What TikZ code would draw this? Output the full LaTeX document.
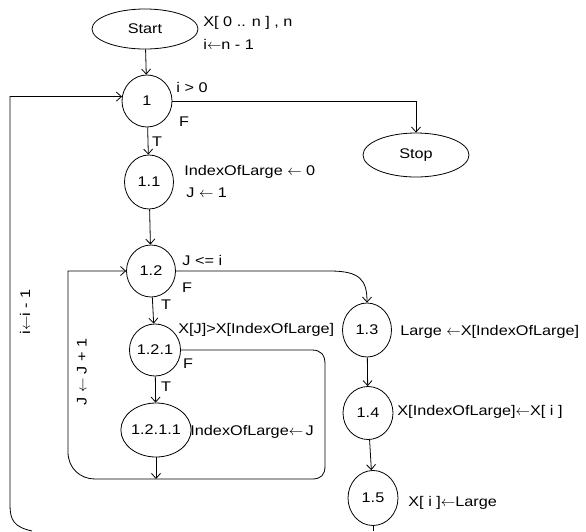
\documentclass[tikz,border=0pt]{standalone}
\usepackage{fontspec}
\setmainfont{Liberation Sans}[FakeStretch=1.16]
\newcommand\lar{\ensuremath{\leftarrow}}
\usetikzlibrary{arrows.meta,shapes.geometric}
\begin{document}
\begin{tikzpicture}[x=1pt,y=-1pt, line width=0.8pt,
  >={Straight Barb[length=5pt,width=9pt]},
  every node/.style={font=\fontsize{14}{15}\selectfont},
  circ/.style={draw, ellipse, inner sep=0pt},
  term/.style={draw, ellipse, inner sep=0pt, minimum width=106pt, minimum height=40pt},
  lbl/.style={anchor=west, inner sep=0pt},
  tf/.style={inner sep=0pt},
]
\useasboundingbox[fill=white] (0,0) rectangle (586,531);
% terminals
\node[term] (start) at (145,29) {Start};
\node[term, minimum height=44pt] (stop) at (416,155) {Stop};
% circles
\node[circ, minimum width=50pt, minimum height=52pt] (n1) at (147,101) {1};
\node[circ, minimum width=49pt, minimum height=54pt] (n11) at (149,182) {1.1};
\node[circ, minimum width=49pt, minimum height=52pt] (n12) at (151,271) {1.2};
\node[circ, minimum width=47pt, minimum height=52pt] (n121) at (155,350) {1.2.1};
\node[circ, minimum width=57pt, minimum height=54pt] (n1211) at (156,430) {1.2.1.1};
\node[circ, minimum width=49pt, minimum height=54pt] (n13) at (367,330) {1.3};
\node[circ, minimum width=50pt, minimum height=53pt] (n14) at (368,413) {1.4};
\node[circ, minimum width=50pt, minimum height=55pt] (n15) at (373,498) {1.5};
% free ends
\coordinate (jn) at (156,479);
\coordinate (oend) at (32,531);
\coordinate (b15) at (373,531);
% connectors
\draw[->] (start) -- (n1);
\draw[->] (n1.east) -| (stop.north);
\draw[->] (n1) -- (n11);
\draw[->] (n11) -- (n12);
\draw[->] (n12) -- (n121);
\draw[->] (n121) -- (n1211);
\draw[->] (n1211) -- (jn);
\draw[->] (n121.east) -- (312,350) .. controls (321,350) and (325,355) .. (325,364)
  -- (325,466) .. controls (325,475) and (321,479) .. (312,479)
  -- (95,479) .. controls (80,479) and (68,468) .. (68,452) |- (n12.west);
\draw[->] (n12.east) -- (330,271) .. controls (360,271) and (367,280) .. (n13.north);
\draw[->] (n13) -- (n14);
\draw[->] (n14) -- (n15);
\draw (n15) -- (b15);
\draw[->] (oend) .. controls (14,527) and (10,520) .. (10,505) |- (n1.170);
% labels
\node[lbl] (tx) at (203,23) {X[ 0 .. n ] , n};
\node[lbl] (ti) at (203,44) {i\lar n - 1};
\node[lbl] (c1) at (176,87) {i > 0};
\node[tf] (f1) at (184,122) {F};
\node[tf] (t1) at (157,142) {T};
\node[lbl] (a11) at (184,172) {IndexOfLarge \lar\ 0};
\node[lbl] (b11) at (186,193) {J \lar\ 1};
\node[lbl] (c12) at (182,260) {J <= i};
\node[tf] (f12) at (187,288) {F};
\node[tf] (t12) at (166,305) {T};
\node[lbl] (c121) at (178,330) {X[J]>X[IndexOfLarge]};
\node[tf] (f121) at (188,364) {F};
\node[tf] (t121) at (166,387) {T};
\node[lbl] (a1211) at (190,432) {IndexOfLarge\lar\,J};
\node[tf, rotate=90] (dec) at (25,312) {i\lar i - 1};
\node[tf, rotate=90] (inc) at (82,372) {J \lar\ J + 1};
\node[lbl] (a13) at (400,332) {Large \lar X[IndexOfLarge]};
\node[lbl] (a14) at (397,412) {X[IndexOfLarge]\lar X[ i ]};
\node[lbl] (a15) at (408,503) {X[ i ]\lar Large};
\end{tikzpicture}
\end{document}
